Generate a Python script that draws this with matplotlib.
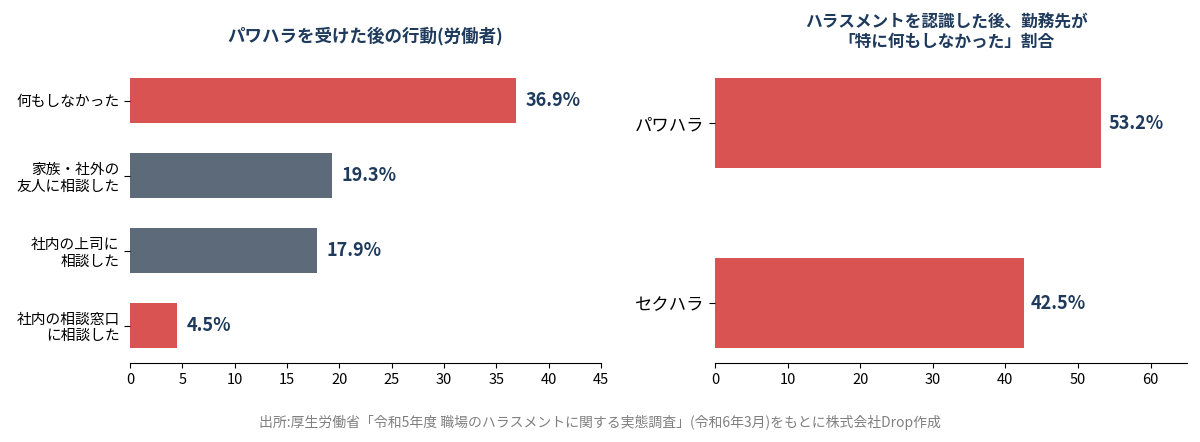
import matplotlib
matplotlib.use("Agg")
import matplotlib.pyplot as plt

plt.rcParams['font.family'] = ['Noto Sans CJK JP', 'DejaVu Sans']

# Left chart data
actions = ['何もしなかった', '家族・社外の\n友人に相談した', '社内の上司に\n相談した', '社内の相談窓口\nに相談した']
action_pct = [36.9, 19.3, 17.9, 4.5]
action_colors = ['#d95352', '#5c6a79', '#5c6a79', '#d95352']

# Right chart data
harassment = ['パワハラ', 'セクハラ']
nothing_pct = [53.2, 42.5]

navy = '#1e3a5c'

fig = plt.figure(figsize=(12, 4.42), dpi=100)
ax1 = fig.add_axes([0.1083, 0.1787, 0.3925, 0.6776])
ax2 = fig.add_axes([0.5958, 0.1787, 0.3933, 0.6776])

# Left: actions after power harassment
y1 = range(len(actions))
ax1.barh(y1, action_pct, height=0.6, color=action_colors)
for i, v in enumerate(action_pct):
    ax1.text(v + 0.9, i, f'{v}%', va='center', ha='left', fontsize=13,
             fontweight='bold', color=navy)
ax1.set_yticks(list(y1))
ax1.set_yticklabels(actions, fontsize=10.6, linespacing=1.2)
ax1.set_ylim(3.5, -0.5)
ax1.set_xlim(0, 45)
ax1.set_xticks(range(0, 46, 5))
ax1.set_title('パワハラを受けた後の行動(労働者)', fontsize=12.6, fontweight='bold',
              color=navy, pad=16)

# Right: employer did nothing
y2 = range(len(harassment))
ax2.barh(y2, nothing_pct, height=0.5, color='#d95352')
for i, v in enumerate(nothing_pct):
    ax2.text(v + 1.0, i, f'{v}%', va='center', ha='left', fontsize=13,
             fontweight='bold', color=navy)
ax2.set_yticks(list(y2))
ax2.set_yticklabels(harassment, fontsize=12.5)
ax2.set_ylim(1.333, -0.333)
ax2.set_xlim(0, 65)
ax2.set_xticks(range(0, 61, 10))
ax2.set_title('ハラスメントを認識した後、勤務先が\n「特に何もしなかった」割合', fontsize=12,
              fontweight='bold', color=navy, pad=12, linespacing=1.1, x=0.49)

for ax in (ax1, ax2):
    for s in ['top', 'right', 'left']:
        ax.spines[s].set_visible(False)
    ax.tick_params(axis='x', labelsize=10.5)
    ax.tick_params(axis='y', length=4)

fig.text(0.5, 0.045, '出所:厚生労働省「令和5年度 職場のハラスメントに関する実態調査」(令和6年3月)をもとに株式会社Drop作成',
         ha='center', va='center', fontsize=10, color='#808080')

fig.savefig('out.png', dpi=100, facecolor='white')
